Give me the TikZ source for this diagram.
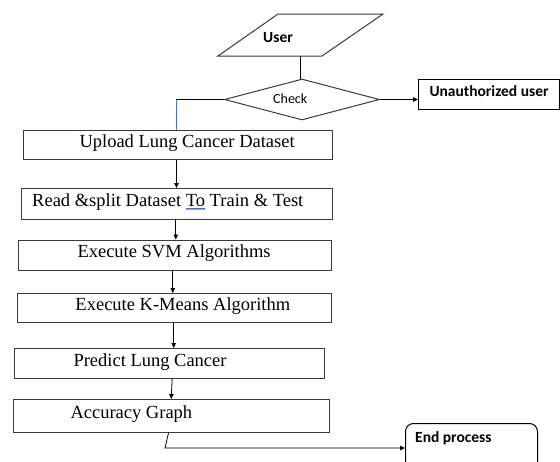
\documentclass[tikz,border=0pt]{standalone}
\usepackage{fontspec}
\setmainfont{Liberation Serif}
\newfontfamily\calib{Carlito}
\usetikzlibrary{arrows.meta,shapes.geometric}
\definecolor{edge}{HTML}{3A3A3A}
\definecolor{uline}{HTML}{4472C4}
\newcommand\lefttext[3]{\hbox to #1{\hskip #2\relax #3\hss}}
\newcommand\spellul[1]{\setbox0\hbox{#1}\rlap{\textcolor{uline}{\rule[-2pt]{\wd0}{0.6pt}}}\rlap{\textcolor{uline!60}{\rule[-3.4pt]{\wd0}{0.5pt}}}\copy0\relax}
\begin{document}
\begin{tikzpicture}[x=1pt,y=-1pt,
  box/.style={draw=edge, line width=1pt, rectangle, inner sep=0pt, anchor=north west,
    font=\fontsize{18.5}{20}\selectfont, text height=10pt, text depth=5pt},
  conn/.style={line width=0.8pt, draw=black},
  arr/.style={conn, -{Triangle[length=5pt,width=4.5pt]}},
  sanslbl/.style={font=\calib\bfseries\fontsize{15.5}{17}\selectfont, inner sep=0pt, anchor=base west},
]
\useasboundingbox (0,0) rectangle (560,461);
\clip (0,0) rectangle (560,461);

% user
\draw[draw=edge, line width=1pt] (278,14) -- (383,14) -- (322,56) -- (218,56) -- cycle;
\node[sanslbl] (user) at (263,42) {User};
\coordinate (userbot) at (300,56);

% check
\node[diamond, draw=edge, line width=1pt, minimum width=155pt, minimum height=41pt,
  inner sep=0pt, shape aspect=3.78] (check) at (302,99.5) {};
\node[font=\calib\fontsize{14}{15}\selectfont, inner sep=0pt, anchor=base west] (checklbl) at (273,103) {Check};

% unauthorized
\node[draw=black, line width=1pt, rectangle, inner sep=0pt, anchor=north west,
  minimum height=30pt, text height=10pt, text depth=6pt,
  font=\calib\bfseries\fontsize{15.5}{17}\selectfont] (unauth) at (418,79)
  {\lefttext{141pt}{11pt}{Unauthorized user}};

% process boxes
\node[box, minimum height=29.3pt] (upload) at (22.7,130)
  {\lefttext{309pt}{56.3pt}{Upload Lung Cancer Dataset}};
\node[box, minimum height=31pt] (read) at (21,188)
  {\lefttext{311pt}{10.7pt}{Read \&split Dataset \spellul{To} Train \& Test}};
\node[box, minimum height=30.5pt] (svm) at (18.3,239.5)
  {\lefttext{312.4pt}{58.7pt}{Execute SVM Algorithms}};
\node[box, minimum height=29pt] (kmeans) at (16.7,293)
  {\lefttext{314pt}{58.3pt}{Execute K-Means Algorithm}};
\node[box, minimum height=30pt] (predict) at (14.3,348)
  {\lefttext{309.7pt}{58.7pt}{Predict Lung Cancer}};
\node[box, minimum height=33pt] (accuracy) at (13.3,399)
  {\lefttext{315.7pt}{56.7pt}{Accuracy Graph}};

% end
\node[draw=black, line width=1pt, rounded corners=8pt, rectangle, anchor=north west,
  minimum width=132pt, minimum height=60pt, inner sep=0pt] (endbox) at (405,423) {};
\node[sanslbl] (endlbl) at (415,442) {End process};

% connectors
\draw[conn] (userbot) -- (userbot |- check.north);
\coordinate (turn) at (176,99.5);
\draw[conn] (check.west) -- (turn);
\draw[conn, draw=uline] (turn) -- (turn |- upload.north);
\draw[arr] (check.east) -- (check.east -| unauth.west);

\draw[arr] ([xshift=-1.2pt]upload.south) -- ([xshift=-1.2pt]upload.south |- read.north);
\draw[arr] ([xshift=-1.2pt]read.south) -- ([xshift=-1.2pt]read.south |- svm.north);
\draw[arr] ([xshift=-2.2pt]svm.south) -- ([xshift=-2.2pt]svm.south |- kmeans.north);
\draw[arr] ([xshift=-0.5pt]kmeans.south) -- ([xshift=-0.5pt]kmeans.south |- predict.north);
\draw[arr] ([xshift=2.5pt]predict.south) -- ([xshift=-0.45pt]accuracy.north);
\coordinate (bend) at (165,448);
\draw[arr] ([xshift=-3.15pt]accuracy.south) -- (bend) -- (bend -| endbox.west);
\end{tikzpicture}
\end{document}
